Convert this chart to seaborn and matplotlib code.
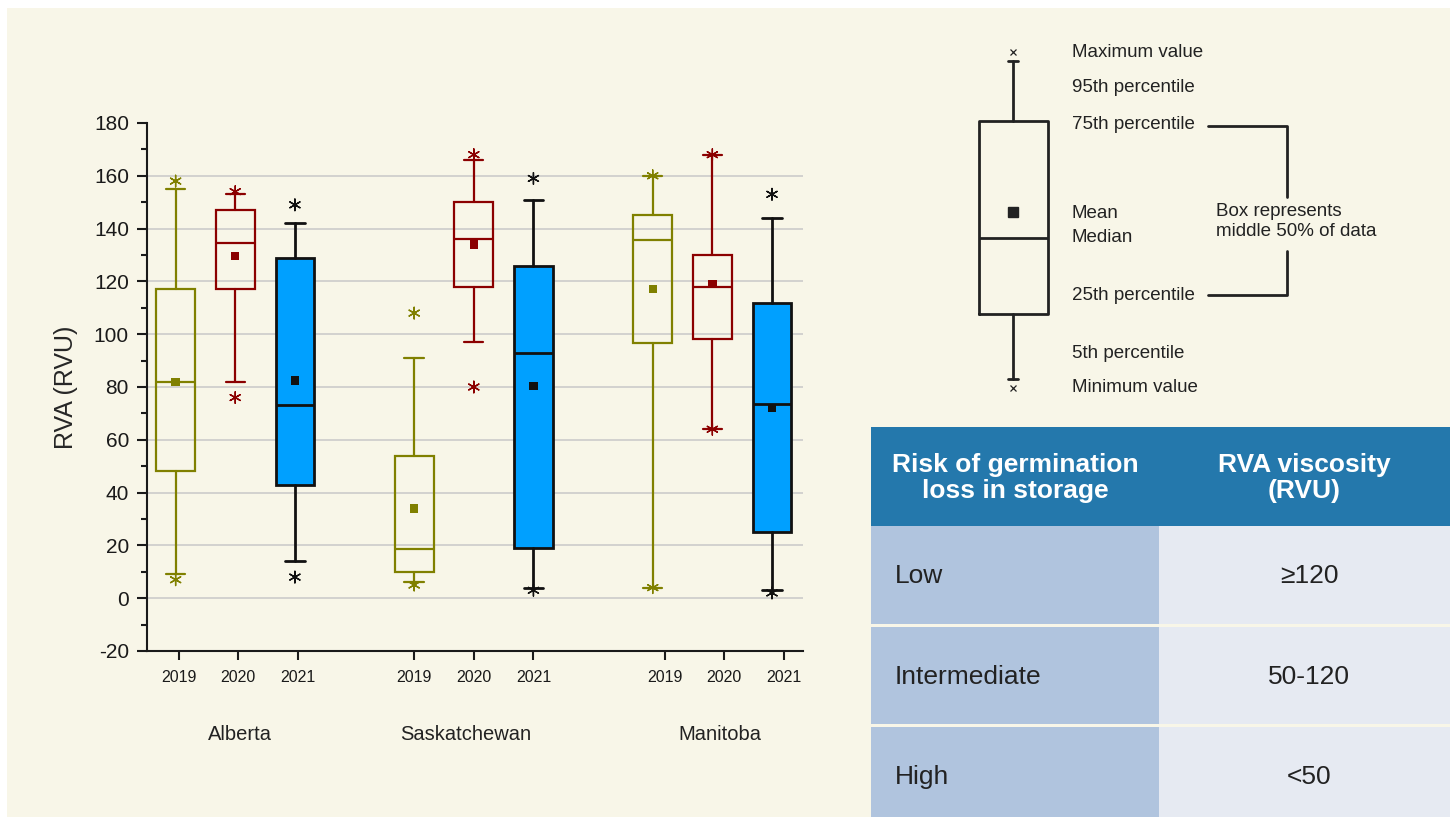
import numpy as np
import pandas as pd
import seaborn as sns
import matplotlib.pyplot as plt
from matplotlib.patches import Rectangle
from matplotlib.ticker import MultipleLocator
from matplotlib import transforms

regions = ["Alberta", "Saskatchewan", "Manitoba"]
years = ["2019", "2020", "2021"]

# one value per box: Alberta 2019-2021, Saskatchewan 2019-2021, Manitoba 2019-2021
minimum = [7, 76, 8, 5, 80, 3, 4, 64, 2]
pct5 = [9, 82, 14, 6, 97, 4, 4, 64, 3]
pct25 = [48, 117, 43, 10, 118, 19, 96.5, 98, 25]
median = [82, 134.5, 73, 18.5, 136, 93, 135.5, 118, 73.5]
mean = [82, 129.5, 82.5, 34, 134, 80.5, 117, 119, 72]
pct75 = [117, 147, 129, 54, 150, 126, 145, 130, 112]
pct95 = [155, 153, 142, 91, 166, 151, 160, 168, 144]
maximum = [158, 154, 149, 108, 168, 159, 160, 168, 153]

table_header = [["Risk of germination", "loss in storage"], ["RVA viscosity", "(RVU)"]]
risk_levels = ["Low", "Intermediate", "High"]
rva_ranges = ["≥120", "50-120", "<50"]

key_labels = ["Maximum value", "95th percentile", "75th percentile", "Mean",
              "Median", "25th percentile", "5th percentile", "Minimum value"]

W, H = 1450, 817
CREAM = "#F8F6E8"
INK = "#222222"
edge = {"2019": "#808000", "2020": "#8B0000", "2021": "#111111"}
fill = {"2019": "none", "2020": "none", "2021": "#00A0FF"}
lws = {"2019": 1.6, "2020": 1.6, "2021": 2.0}
# small horizontal nudges of tick marks / region names, as in the original
tick_shift = [0.05, 0.0, 0.2]
name_shift = [0.08, -0.13, 0.13]

sns.set_style("ticks")
plt.rcParams["font.family"] = ["Liberation Sans", "DejaVu Sans"]
plt.rcParams["text.color"] = INK
plt.rcParams["axes.unicode_minus"] = False

df = pd.DataFrame({
    "region": np.repeat(regions, len(years)),
    "year": years * len(regions),
    "minimum": minimum, "pct5": pct5, "pct25": pct25, "median": median,
    "mean": mean, "pct75": pct75, "pct95": pct95, "maximum": maximum,
})
df["pos"] = [4 * g + k for g in range(len(regions)) for k in range(len(years))]

fig = plt.figure(figsize=(W / 100, H / 100), dpi=100)
fig.patch.set_facecolor("white")
fig.add_artist(Rectangle((7 / W, 0), 1, 1 - 8 / H, transform=fig.transFigure,
                         facecolor=CREAM, edgecolor="none", zorder=-10))

ax = fig.add_axes([147 / W, 1 - 651 / H, 656 / W, 528 / H])
ax.set_facecolor("none")

for year in years:
    sub = df[df["year"] == year]
    stats = [dict(med=r.median, q1=r.pct25, q3=r.pct75, whislo=r.pct5, whishi=r.pct95)
             for r in sub.itertuples()]
    line = dict(color=edge[year], linewidth=lws[year])
    ax.bxp(stats, positions=sub["pos"].tolist(), widths=0.65, patch_artist=True,
           showfliers=False, manage_ticks=False,
           boxprops=dict(facecolor=fill[year], edgecolor=edge[year], linewidth=lws[year]),
           whiskerprops=line, capprops=line, medianprops=line)

sns.scatterplot(data=df, x="pos", y="mean", hue="year", palette=edge, marker="s",
                s=36, linewidth=0, legend=False, ax=ax, zorder=5)
ext = df.melt(id_vars=["pos", "year"], value_vars=["minimum", "maximum"])
sns.scatterplot(data=ext, x="pos", y="value", hue="year", palette=edge, marker=(6, 2, 0),
                s=70, linewidth=1.0, legend=False, ax=ax, zorder=5)

ax.set_xlim(-0.48, 10.52)
ax.set_ylim(-20, 180)
ax.set_yticks(range(-20, 181, 20))
ax.yaxis.set_minor_locator(MultipleLocator(10))
ax.set_xticks(df["pos"] + np.repeat(tick_shift, len(years)))
ax.set_xticklabels(df["year"], fontsize=11.5)
for v in range(0, 161, 20):
    ax.axhline(v, color="#C8C8C8", linewidth=1.1, zorder=0)
for s in ["top", "right"]:
    ax.spines[s].set_visible(False)
for s in ["left", "bottom"]:
    ax.spines[s].set_linewidth(1.5)
    ax.spines[s].set_color("#1a1a1a")
ax.tick_params(axis="y", which="major", length=7, width=1.5, labelsize=15, pad=6, colors="#1a1a1a")
ax.tick_params(axis="y", which="minor", length=4.5, width=1.5, colors="#1a1a1a")
ax.tick_params(axis="x", length=6.5, width=1.5, pad=7, colors="#1a1a1a")
ax.set_xlabel("")
ax.set_ylabel("RVA (RVU)", fontsize=18)
ax.yaxis.set_label_coords(-0.105, 0.5)

trans = transforms.blended_transform_factory(ax.transData, ax.transAxes)
for g, name in enumerate(regions):
    ax.text(4 * g + 1 + name_shift[g], -0.158, name, transform=trans,
            ha="center", va="center", fontsize=14.5)

# overlay in pixel units for the key and the table
ov = fig.add_axes([0, 0, 1, 1])
ov.set_facecolor("none")

key = dict(whislo=379, q1=313.5, med=237.5, q3=120.5, whishi=61)
kline = dict(color=INK, linewidth=2)
ov.bxp([key], positions=[1013.5], widths=[69], capwidths=[10], showfliers=False,
       manage_ticks=False, boxprops=kline, whiskerprops=kline, capprops=kline, medianprops=kline)
ov.plot([1013.5, 1013.5], [52, 387.5], "x", ms=4.5, mew=0.9, color=INK)
ov.plot([1013.5], [212], "s", ms=7, color=INK)
key_y = [52, 87, 124, 213.5, 237.5, 295, 353, 387.5]
for label, y in zip(key_labels, key_y):
    ov.text(1072, y, label, fontsize=13.5, va="center", ha="left")
ov.plot([1208, 1287.5, 1287.5], [125.5, 125.5, 196.5], color=INK, lw=2)
ov.plot([1208, 1287.5, 1287.5], [295, 295, 251], color=INK, lw=2)
ov.text(1216, 211, "Box represents", fontsize=13.5, va="center")
ov.text(1216, 231.5, "middle 50% of data", fontsize=13.5, va="center")

# risk table
x0, x1, x2 = 871, 1159, 1450
ov.add_patch(Rectangle((x0, 427), x2 - x0, 99, facecolor="#2478AC", edgecolor="none"))
for cx, lines in zip([(x0 + x1) / 2, (x1 + x2) / 2], table_header):
    for i, t in enumerate(lines):
        ov.text(cx, 465 + 26 * i, t, color="white", fontsize=19, fontweight="bold",
                ha="center", va="center")
for i, (risk, rng) in enumerate(zip(risk_levels, rva_ranges)):
    top = 526 + 100.5 * i
    ov.add_patch(Rectangle((x0, top), x1 - x0, 97.5, facecolor="#B0C4DE", edgecolor="none"))
    ov.add_patch(Rectangle((x1, top), x2 - x1, 97.5, facecolor="#E6EAF2", edgecolor="none"))
    ov.text(895, top + 50, risk, fontsize=19, va="center", ha="left")
    ov.text(1309, top + 50, rng, fontsize=19, va="center", ha="center")

ov.set_xlim(0, W)
ov.set_ylim(H, 0)
ov.axis("off")

fig.savefig("out.png", dpi=100, facecolor=fig.get_facecolor())
